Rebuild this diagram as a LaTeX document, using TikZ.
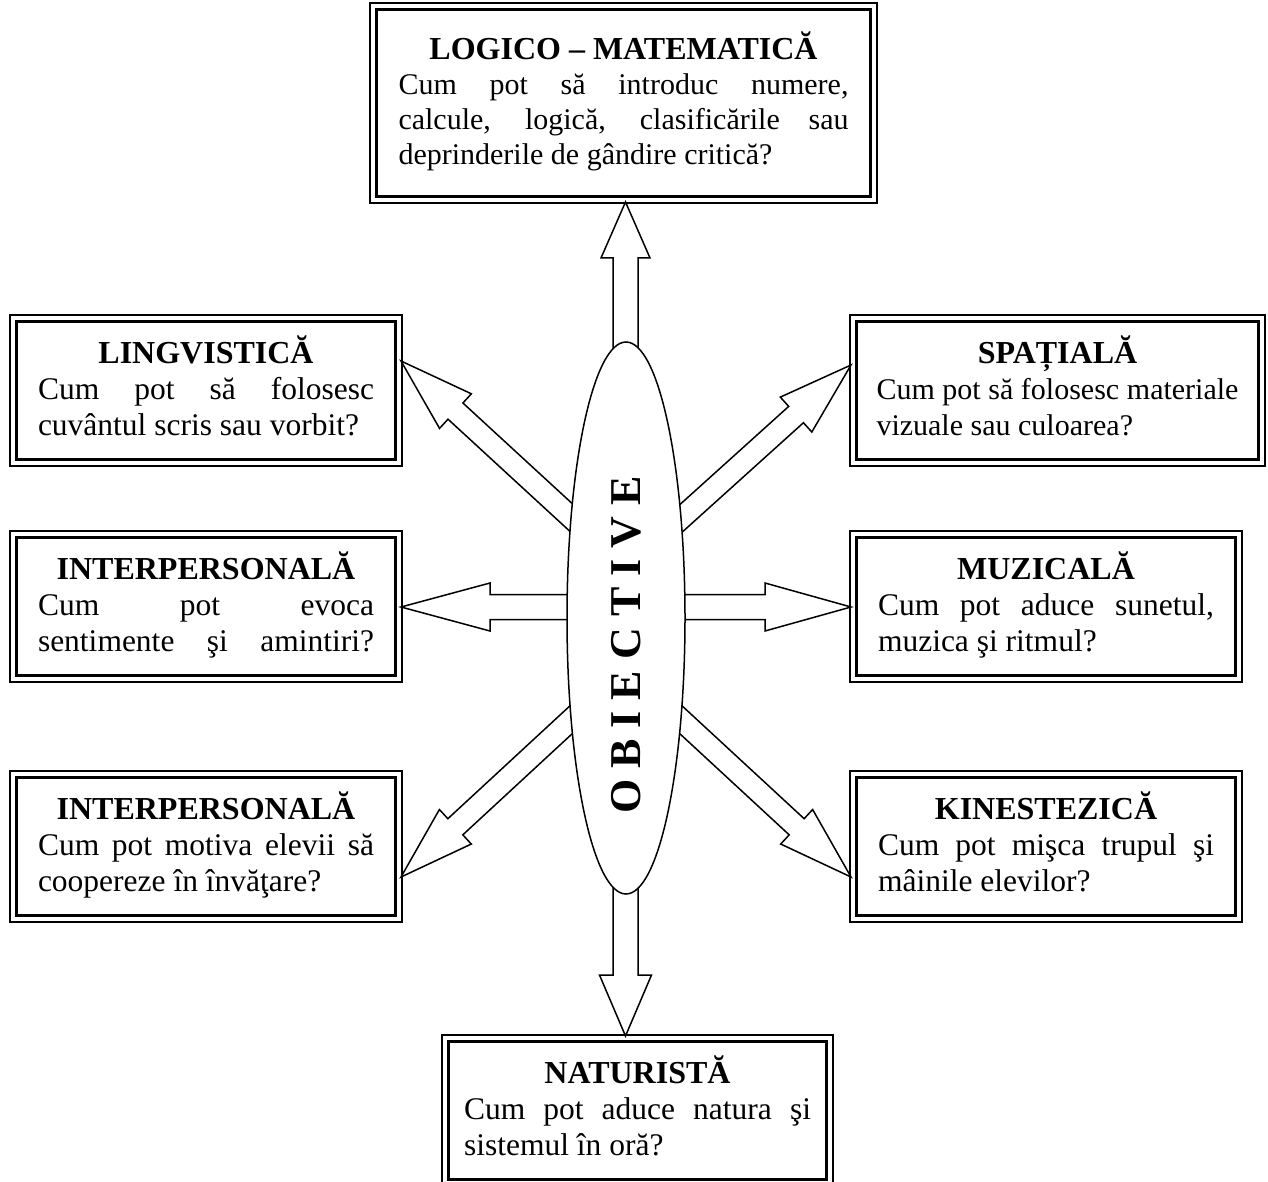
\documentclass[tikz,border=0pt]{standalone}
\usepackage{fontspec}
\setmainfont{Liberation Serif}
\usetikzlibrary{calc,shapes.geometric}
\setlength\parindent{0pt}
\setlength\parskip{0pt}
\newcommand\bx[2]{{\centering\fontsize{32}{36}\selectfont\bfseries #1\par}#2\rule[-9pt]{0pt}{9pt}\par}
\newcommand\blockarrow[5]{%
  \path ($(#2)!#5!(#1)$) coordinate (hb);
  \draw[arrowline] ($(#1)!#3!90:(#2)$) -- ($(hb)!#3!90:(#2)$) -- ($(hb)!#4!90:(#2)$) -- (#2)
    -- ($(hb)!#4!-90:(#2)$) -- ($(hb)!#3!-90:(#2)$) -- ($(#1)!#3!-90:(#2)$) -- cycle;
}
\tikzset{
  box/.style={draw, line width=2.6pt, inner sep=0pt, outer sep=0pt, align=justify,
    minimum width=379pt, minimum height=138pt, text width=336pt,
    font=\fontsize{31.5}{36}\selectfont},
  outerline/.style={draw, line width=1.2pt},
  arrowline/.style={draw, fill=white, line width=1.5pt, line join=miter},
}
\begin{document}
\begin{tikzpicture}[x=1pt,y=-1pt]
\useasboundingbox (0,0) rectangle (1268,1182);
\clip (0,0) rectangle (1268,1182);
% boxes
\node[box, minimum width=494pt, minimum height=187pt, text width=450pt,
  font=\fontsize{30}{35}\selectfont] (top) at (623.5,103)
  {\bx{LOGICO – MATEMATICĂ}{Cum pot să introduc numere,\linebreak calcule, logică, clasificările sau\linebreak deprinderile de gândire critică?}};
\node[box] (ling) at (206,390.5)
  {\bx{LINGVISTICĂ}{Cum pot să folosesc\linebreak cuvântul scris sau vorbit?}};
\node[box, minimum width=402pt, text width=362pt, font=\fontsize{30}{36}\selectfont] (spat) at (1057.5,390.5)
  {\bx{SPAȚIALĂ}{Cum pot să folosesc materiale\linebreak vizuale sau culoarea?}};
\node[box] (int1) at (206,606.5)
  {\bx{INTERPERSONALĂ}{\parfillskip=0pt Cum pot evoca\linebreak sentimente şi amintiri?}};
\node[box] (muz) at (1046,606.5)
  {\bx{MUZICALĂ}{Cum pot aduce sunetul,\linebreak muzica şi ritmul?}};
\node[box] (int2) at (206,846.5)
  {\bx{INTERPERSONALĂ}{Cum pot motiva elevii să\linebreak coopereze în învăţare?}};
\node[box] (kin) at (1046,846.5)
  {\bx{KINESTEZICĂ}{Cum pot mişca trupul şi\linebreak mâinile elevilor?}};
\node[box, minimum width=378pt, text width=347pt] (nat) at (637.5,1110.5)
  {\bx{NATURISTĂ}{Cum pot aduce natura şi\linebreak sistemul în oră?}};
\foreach \n in {top,ling,spat,int1,muz,int2,kin,nat}
  \draw[outerline] ([shift={(-6.5pt,-6.5pt)}]\n.south west) rectangle ([shift={(6.5pt,6.5pt)}]\n.north east);
% arrow anchor coordinates
\coordinate (cC) at (625.5,618);
\coordinate (cU) at (626,568);
\coordinate (cM) at (626,607);
\coordinate (cL) at (626,669);
\coordinate (tT) at (625.5,202);
\coordinate (tB) at (625.5,1036);
\coordinate (tLing) at (401,361);
\coordinate (tInt1) at (401,607);
\coordinate (tInt2) at (401,877);
\coordinate (tSpat) at (851,365);
\coordinate (tMuz) at (851,607);
\coordinate (tKin) at (851,877);
% arrows
\blockarrow{cC}{tT}{12.5pt}{24.5pt}{56pt}
\blockarrow{cC}{tB}{12.5pt}{26pt}{61pt}
\blockarrow{cM}{tInt1}{12.5pt}{24pt}{89pt}
\blockarrow{cM}{tMuz}{12.5pt}{24pt}{86pt}
\blockarrow{cU}{tLing}{11pt}{23.5pt}{74pt}
\blockarrow{cU}{tSpat}{11pt}{23.5pt}{74pt}
\blockarrow{cL}{tInt2}{11pt}{23.5pt}{74pt}
\blockarrow{cL}{tKin}{11pt}{23.5pt}{74pt}
% central ellipse
\node[ellipse, draw, line width=1.5pt, fill=white, minimum width=118pt, minimum height=552pt, inner sep=0pt] (obj) at (626,618) {};
\node[rotate=90, font=\fontsize{44}{46}\selectfont\bfseries, inner sep=0pt] (objtxt) at (626,645) {O B I E C T I V E};
\end{tikzpicture}
\end{document}
